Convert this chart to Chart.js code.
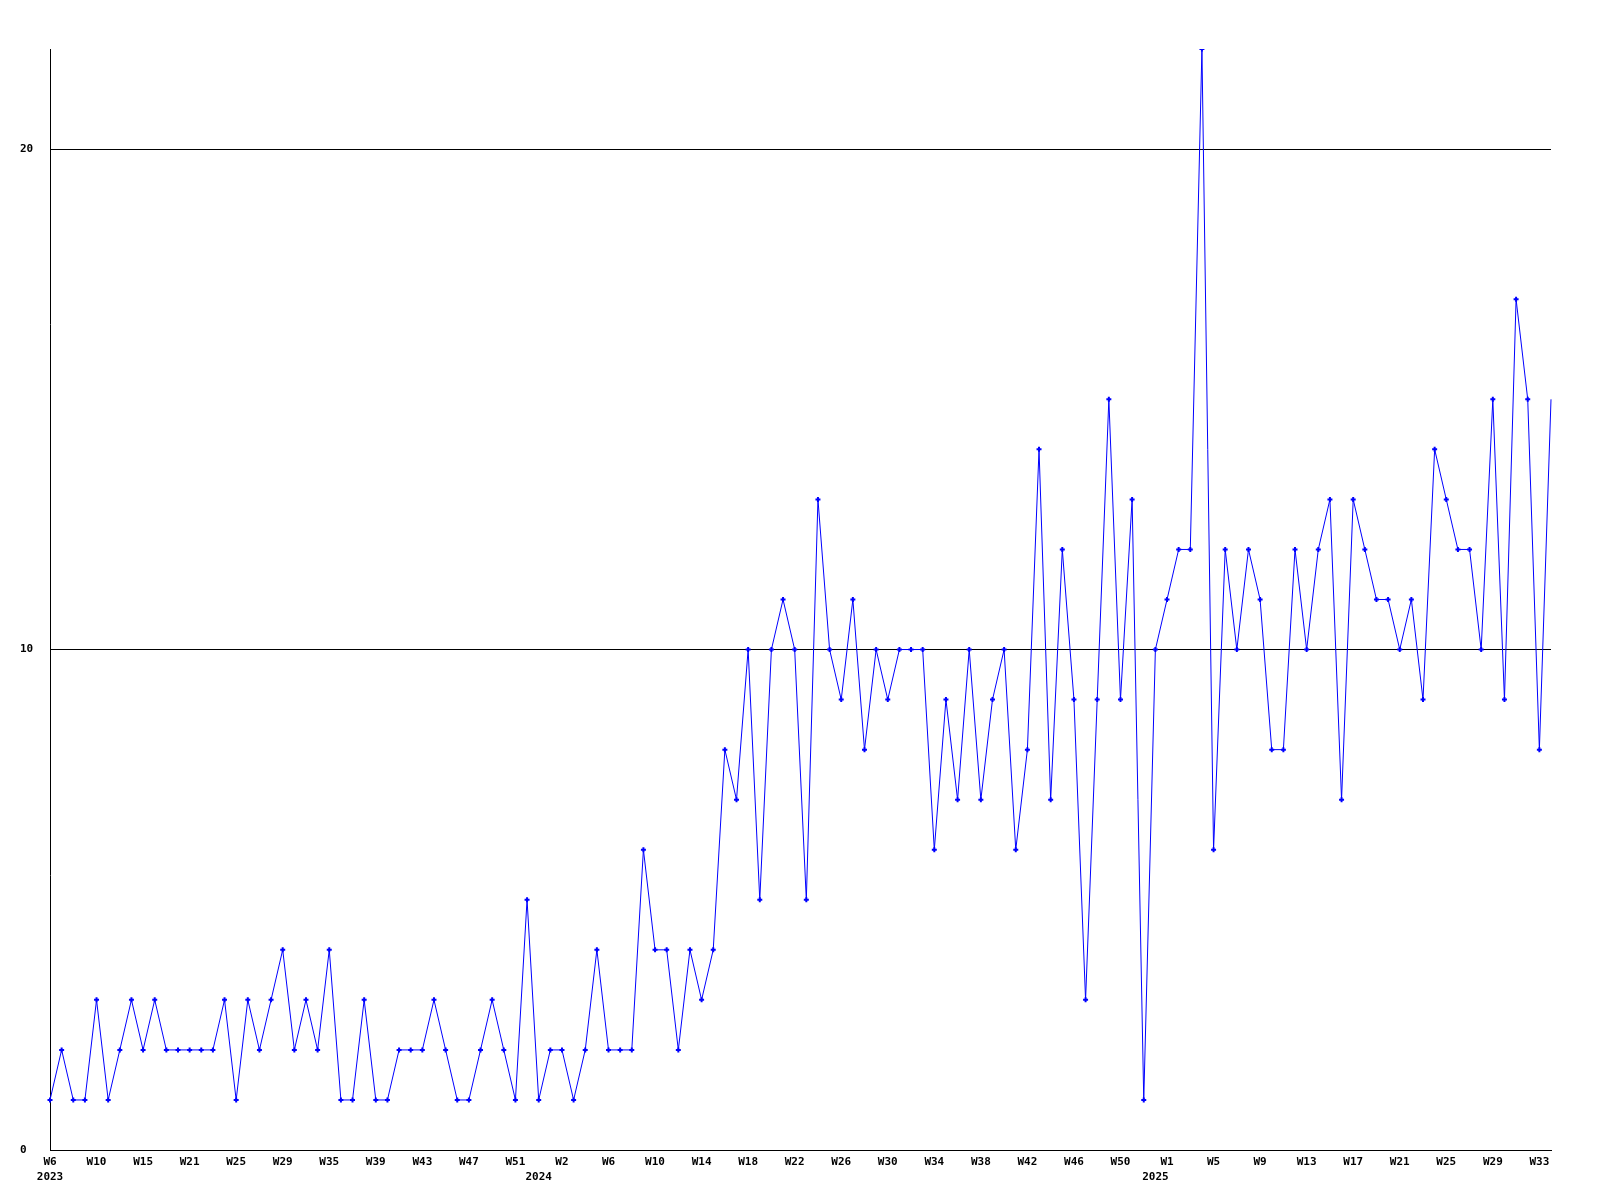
<!DOCTYPE html>
<html>
<head>
<meta charset="utf-8">
<script src="https://cdn.jsdelivr.net/npm/chart.js@4/dist/chart.umd.min.js"></script>
<style>
  html, body { margin: 0; padding: 0; background: #ffffff; }
  #wrap { width: 1600px; height: 1200px; }
</style>
</head>
<body>
<div id="wrap"><canvas id="weekChart" width="1600" height="1200"></canvas></div>
<script>
// week numbers per year (weeks without data are missing)
const weeks2023 = [6,7,8,9,10,11,12,13,15,16,18,19,21,22,23,24,25,26,27,28,29,30,31,33,35,
    36,37,38,39,40,41,42,43,44,45,46,47,48,49,50,51,52];
const weeks2024 = [0,1,2,3,4,5,6,7,8,9,10,11,12,13,14,15,16,17,18,19,20,21,22,23,24,25,26,
    27,28,29,30,31,32,33,34,35,36,37,38,39,40,41,42,43,44,45,46,47,48,49,50,51,52];
const weeks2025 = [0,1,2,3,4,5,6,7,8,9,10,11,12,13,14,15,16,17,18,19,20,21,22,23,24,25,26,
    27,28,29,30,31,32,33,34];

// counts per week
const counts = [
    1,2,1,1,3,1,2,3,2,3,
    2,2,2,2,2,3,1,3,2,3,
    4,2,3,2,4,1,1,3,1,1,
    2,2,2,3,2,1,1,2,3,2,
    1,5,1,2,2,1,2,4,2,2,
    2,6,4,4,2,4,3,4,8,7,
    10,5,10,11,10,5,13,10,9,11,
    8,10,9,10,10,10,6,9,7,10,
    7,9,10,6,8,14,7,12,9,3,
    9,15,9,13,1,10,11,12,12,22,
    6,12,10,12,11,8,8,12,10,12,
    13,7,13,12,11,11,10,11,9,14,
    13,12,12,10,15,9,17,15,8,15
];

const yTicks = [0, 10, 20];
const yMax = 22;

const labels = [];
const years = [];
weeks2023.forEach(w => { labels.push("W" + w); years.push(2023); });
weeks2024.forEach(w => { labels.push("W" + w); years.push(2024); });
weeks2025.forEach(w => { labels.push("W" + w); years.push(2025); });

const labelStep = 4;
const lastIndex = counts.length - 1;

const font = {
    family: "'DejaVu Sans Mono', 'Liberation Mono', monospace",
    size: 11,
    weight: "bold",
    lineHeight: 1.35
};

const ctx = document.getElementById("weekChart").getContext("2d");

new Chart(ctx, {
    type: "line",
    data: {
        labels: labels,
        datasets: [{
            data: counts,
            borderColor: "#0000ff",
            backgroundColor: "#0000ff",
            borderWidth: 1,
            tension: 0,
            fill: false,
            pointStyle: "cross",
            pointBorderColor: "#0000ff",
            pointBorderWidth: 2,
            pointRadius: c => c.dataIndex === lastIndex ? 0 : 2.5,
            pointHoverRadius: 0
        }]
    },
    options: {
        responsive: false,
        animation: false,
        layout: {
            padding: { top: 49, right: 49, left: 20, bottom: 0 }
        },
        plugins: {
            legend: { display: false },
            tooltip: { enabled: false }
        },
        scales: {
            x: {
                type: "category",
                offset: false,
                grid: { display: false, drawTicks: false },
                border: { display: true, color: "#000000", width: 1 },
                afterFit: s => { s.height = 50; },
                ticks: {
                    autoSkip: false,
                    maxRotation: 0,
                    minRotation: 0,
                    padding: 5,
                    color: "#000000",
                    font: font,
                    callback: function(value, index){
                        const week = index % labelStep === 0 ? labels[index] : "";
                        // year goes under the first week of that year
                        const newYear = index === 0 || years[index] !== years[index - 1];
                        if(newYear) return [week, String(years[index])];
                        return week === "" ? null : week;
                    }
                }
            },
            y: {
                min: 0,
                max: yMax,
                afterBuildTicks: s => {
                    s.ticks = yTicks.map(v => ({ value: v }));
                },
                afterFit: s => { s.width = 30; },
                grid: { color: "#000000", lineWidth: 1, drawTicks: false },
                border: { display: true, color: "#000000", width: 1 },
                ticks: {
                    crossAlign: "far",
                    padding: 0,
                    color: "#000000",
                    font: font
                }
            }
        }
    }
});
</script>
</body>
</html>
